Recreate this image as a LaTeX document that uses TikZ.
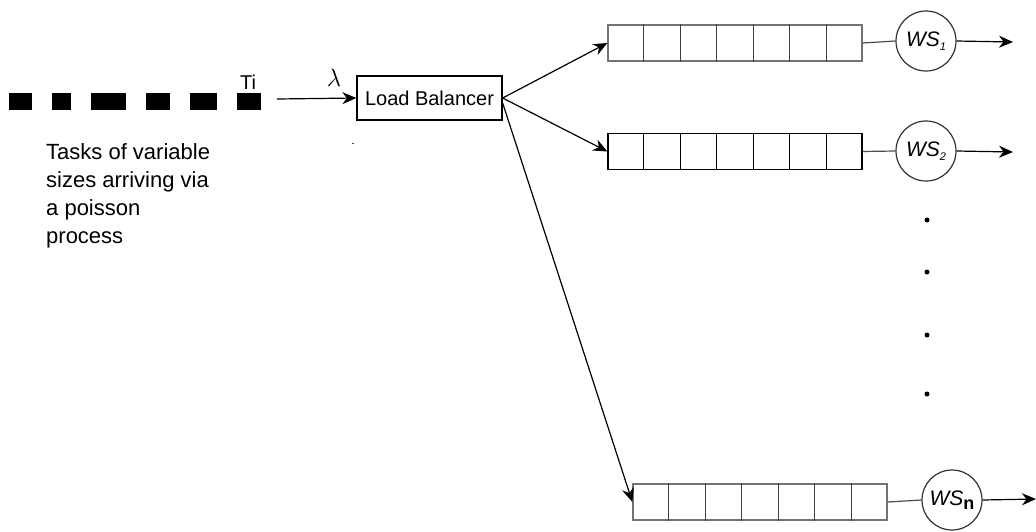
\documentclass[tikz,border=0pt]{standalone}
\usepackage{fontspec}
\setmainfont{Liberation Sans}
\usetikzlibrary{arrows,arrows.meta,shapes,positioning,calc}
\tikzset{
  lbnode/.style = {rectangle, draw=black, line width=1.3pt, inner sep=0pt,
    minimum width=145pt, minimum height=44pt,
    font=\fontsize{20}{24}\selectfont},% load balancer
  qnode/.style = {rectangle, draw=#1, line width=1.3pt, inner sep=0pt,
    minimum width=254pt, minimum height=36pt},% queue of 7 cells
  srv/.style = {circle, draw=black!80, line width=1.2pt, inner sep=0pt,
    minimum size=60pt, font=\fontsize{21}{24}\selectfont},% web server
  flow/.style = {-{Stealth[length=14pt,width=12pt]}, line width=1.2pt},
  vdot/.style = {circle, fill=black, inner sep=0pt, minimum size=5pt},
  txt/.style = {inner sep=0pt, font=\fontsize{20}{28}\selectfont}
}

\begin{document}
\begin{tikzpicture}[x=1pt,y=-1pt]
\useasboundingbox (0,0) rectangle (1036,531);
% tasks
\foreach \a/\b in {9/32,52/71,91/126,146/170,190/217,237/261}
  \fill (\a,93) rectangle (\b,110);
\node [txt] (ti) at (248,82) {Ti};
\node [txt, font=\fontsize{22}{28}\selectfont, anchor=north west, align=left] (desc) at (46,143)
  {Tasks of variable\\sizes arriving via\\a poisson\\process};
% load balancer
\coordinate (in) at (277,99);
\node [lbnode] (lb) at (429.5,98) {Load Balancer};
\node [txt, font=\fontsize{27}{30}\selectfont] (lam) at (334,78) {$\lambda$};
\node [inner sep=0pt, font=\fontsize{9}{9}\selectfont] (mark) at (353,145) {-};
\draw [flow] (in) -- (lb.west);
% queues
\foreach \q/\qx/\qy/\c/\d in {q1/608/43/black!55/black!75, q2/608/151.5/black/black, qn/633/502/black!55/black!75}{
  \node [qnode=\c] (\q) at (\qx+127,\qy) {};
  \foreach \k in {1,...,6}
    \draw [line width=1.3pt, \d]
      ($(\q.north west)!\k/7!(\q.north east)$) -- ($(\q.south west)!\k/7!(\q.south east)$);
}
\draw [flow] (lb.east) -- (q1.west);
\draw [flow] (lb.east) -- (q2.west);
\draw [flow] ([yshift=-5pt]lb.east) -- (qn.west);
% servers
\node [srv] (s1) at (926,41) {\textit{WS}\raisebox{-0.35ex}{\fontsize{11}{11}\selectfont\textit{1}}};
\node [srv] (s2) at (926,151) {\textit{WS}\raisebox{-0.35ex}{\fontsize{11}{11}\selectfont\textit{2}}};
\node [srv] (sn) at (952,500) {\textit{WS}\raisebox{-0.3ex}{\fontsize{18}{18}\selectfont\textbf{n}}};
\coordinate (o1) at (1013,42);
\coordinate (o2) at (1013,152);
\coordinate (on) at (1036,499);
\foreach \q/\s/\o in {q1/s1/o1, q2/s2/o2, qn/sn/on}{
  \draw [line width=1.2pt, black!70] (\q.east) -- (\s.west);
  \draw [flow] (\s.east) -- (\o);
}
% more servers
\foreach \y [count=\i] in {220,272,335,394}
  \node [vdot] (d\i) at (927,\y) {};
\end{tikzpicture}
\end{document}
